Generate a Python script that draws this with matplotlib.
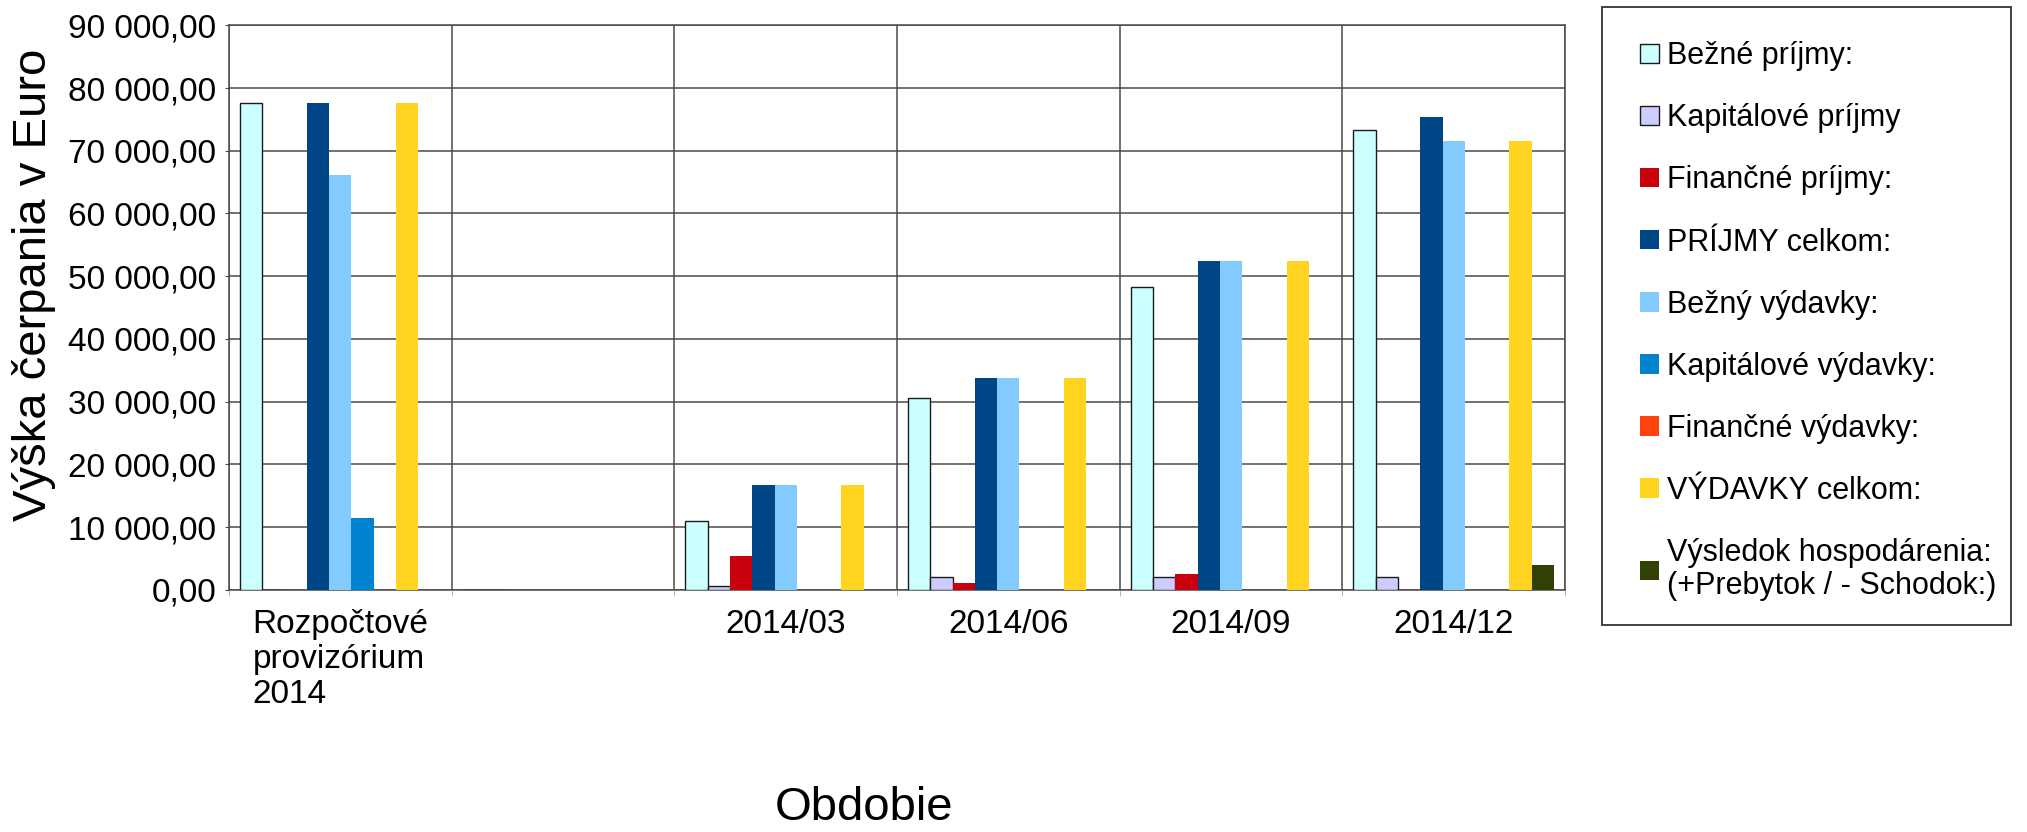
import matplotlib
matplotlib.use("Agg")
import matplotlib.pyplot as plt
import numpy as np
from matplotlib.patches import Rectangle
from matplotlib.ticker import FuncFormatter, FixedLocator

plt.rcParams['font.family'] = ['Liberation Sans', 'DejaVu Sans']

# data (Euro)
categories = ['Rozpočtové\nprovizórium\n2014', '', '2014/03', '2014/06', '2014/09', '2014/12']
bezne_prijmy = [77650, 0, 10950, 30600, 48200, 73300]
kapitalove_prijmy = [0, 0, 640, 2070, 2070, 2100]
financne_prijmy = [0, 0, 5350, 1000, 2440, 0]
prijmy_celkom = [77650, 0, 16700, 33700, 52500, 75400]
bezne_vydavky = [66150, 0, 16700, 33700, 52500, 71500]
kapitalove_vydavky = [11500, 0, 0, 0, 0, 0]
financne_vydavky = [0, 0, 0, 0, 0, 0]
vydavky_celkom = [77650, 0, 16700, 33700, 52500, 71500]
vysledok = [0, 0, 0, 0, 0, 3900]

series_names = ['Bežné príjmy:', 'Kapitálové príjmy', 'Finančné príjmy:', 'PRÍJMY celkom:',
                'Bežný výdavky:', 'Kapitálové výdavky:', 'Finančné výdavky:', 'VÝDAVKY celkom:',
                'Výsledok hospodárenia:\n(+Prebytok / - Schodok:)']
series_values = [bezne_prijmy, kapitalove_prijmy, financne_prijmy, prijmy_celkom,
                 bezne_vydavky, kapitalove_vydavky, financne_vydavky, vydavky_celkom, vysledok]
colors = ['#ccffff', '#ccccff', '#c9000e', '#004586', '#83caff',
          '#0084d1', '#ff420e', '#ffd320', '#314004']
edged = [True, True, False, False, False, False, False, False, False]

W, H = 2027, 832
fig = plt.figure(figsize=(W / 100, H / 100), dpi=100)
ax = fig.add_axes([229 / W, 1 - 589.7 / H, (1565 - 229) / W, (589.7 - 25.4) / H])

x = np.arange(len(categories))
w = 0.1
handles = []
for k, (vals, col, e) in enumerate(zip(series_values, colors, edged)):
    b = ax.bar(x + (k - 4) * w, vals, width=w, color=col,
               edgecolor='#1a1a1a' if e else 'none', linewidth=1.0 if e else 0,
               zorder=3)
    handles.append(b)

ax.set_xlim(-0.5, len(categories) - 0.5)
ax.set_ylim(0, 90000)
ax.set_yticks(np.arange(0, 90001, 10000))
ax.yaxis.set_major_formatter(FuncFormatter(
    lambda v, p: f"{v:,.2f}".replace(',', ' ').replace('.', ',')))
ax.set_xticks(x)
ax.set_xticklabels(categories, multialignment='left', linespacing=1.17)
ax.xaxis.set_minor_locator(FixedLocator(np.arange(-0.5, len(categories), 1.0)))

grid_col = '#4a4a4a'
ax.grid(axis='y', which='major', color=grid_col, linewidth=1.1, zorder=0)
ax.grid(axis='x', which='minor', color=grid_col, linewidth=1.1, zorder=0)
for s in ax.spines.values():
    s.set_color(grid_col)
    s.set_linewidth(1.1)
ax.tick_params(axis='y', labelsize=24, length=3, pad=6, color=grid_col)
ax.tick_params(axis='x', which='major', labelsize=24, length=0, pad=14)
ax.tick_params(axis='x', which='minor', length=4, color='#aaaaaa')

fig.text(34 / W, 1 - 285 / H, 'Výška čerpania v Euro', rotation=90,
         ha='center', va='center', fontsize=34)
fig.text(864 / W, 2 / H, 'Obdobie', ha='center', va='bottom', fontsize=34)

# legend box drawn separately so its size matches the reference
fig.patches.append(Rectangle((1602 / W, 1 - 625 / H), (2011 - 1602) / W, (625 - 6.5) / H,
                             transform=fig.transFigure, facecolor='white',
                             edgecolor='#333333', linewidth=1.3, zorder=0))
leg = fig.legend(handles, series_names, loc='upper left',
                 bbox_to_anchor=(1625 / W, 1 - 26 / H), frameon=False,
                 fontsize=22, borderpad=0, labelspacing=1.05,
                 handlelength=0.62, handleheight=0.6, handletextpad=0.25)
for t in leg.get_texts():
    t.set_linespacing(1.15)

fig.savefig('out.png', dpi=100)
